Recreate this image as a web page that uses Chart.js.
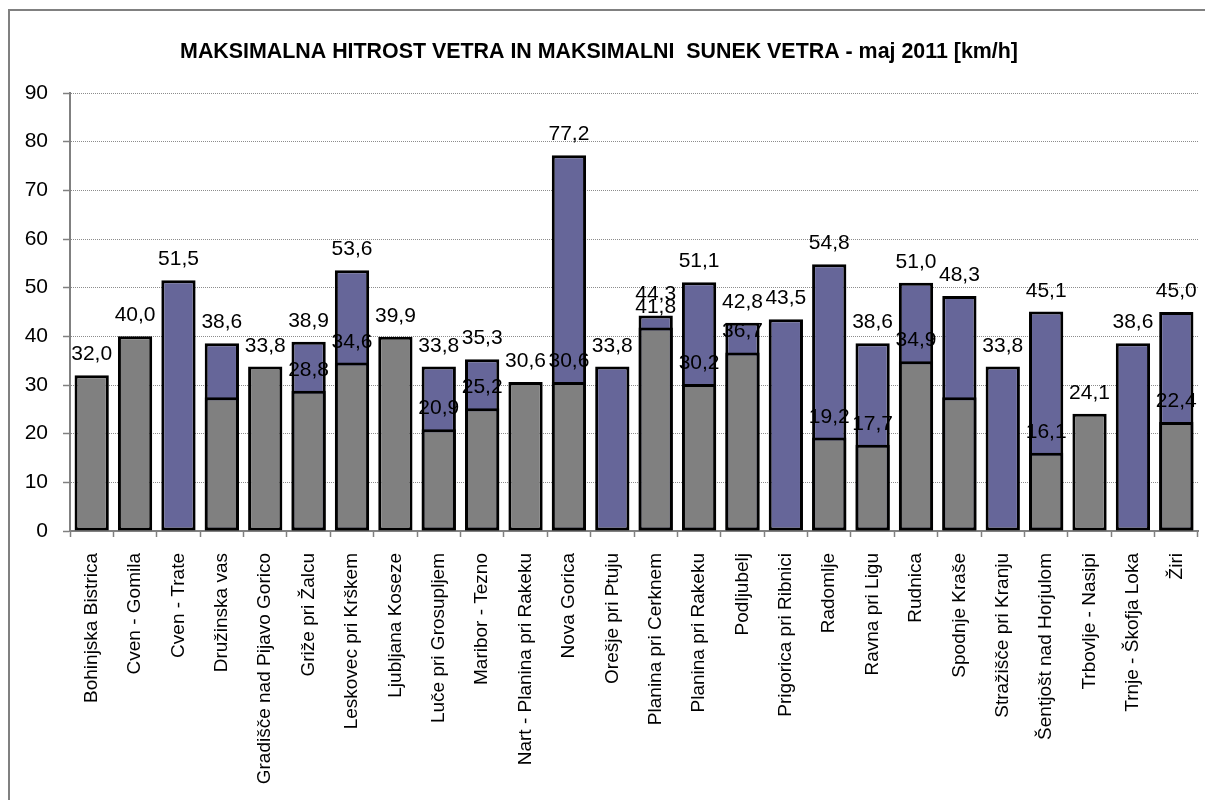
<!DOCTYPE html>
<html lang="sl">
<head>
<meta charset="utf-8">
<title>Maksimalna hitrost vetra - maj 2011</title>
<script src="https://cdn.jsdelivr.net/npm/chart.js@4.4.0/dist/chart.umd.min.js"></script>
<style>
    body { margin: 0; background: #ffffff; overflow: hidden; }
    canvas { display: block; }
</style>
</head>
<body>
<canvas id="chartVeter" width="1205" height="800"></canvas>
<script>
const postaje = [
    'Bohinjska Bistrica', 'Cven - Gomila', 'Cven - Trate', 'Družinska vas',
    'Gradišče nad Pijavo Gorico', 'Griže pri Žalcu', 'Leskovec pri Krškem',
    'Ljubljana Koseze', 'Luče pri Grosupljem', 'Maribor - Tezno',
    'Nart - Planina pri Rakeku', 'Nova Gorica', 'Orešje pri Ptuju',
    'Planina pri Cerknem', 'Planina pri Rakeku', 'Podljubelj',
    'Prigorica pri Ribnici', 'Radomlje', 'Ravna pri Ligu', 'Rudnica',
    'Spodnje Kraše', 'Stražišče pri Kranju', 'Šentjošt nad Horjulom',
    'Trbovlje - Nasipi', 'Trnje - Škofja Loka', 'Žiri'
];

// maksimalna hitrost vetra (siva)
const hitrost = [
    32.0, 40.0, null, 27.5, 33.8, 28.8, 34.6, 39.9, 20.9, 25.2, 30.6, 30.6, null,
    41.8, 30.2, 36.7, null, 19.2, 17.7, 34.9, 27.5, null, 16.1, 24.1, null, 22.4
];

// ali se vrednost hitrosti izpiše nad stolpcem
const hitrostOznaka = [
    true, true, true, false, true, true, true, true, true, true, true, true, true,
    true, true, true, true, true, true, true, false, true, true, true, true, true
];

// maksimalni sunek vetra (modra)
const sunek = [
    null, null, 51.5, 38.6, null, 38.9, 53.6, null, 33.8, 35.3, null, 77.2, 33.8,
    44.3, 51.1, 42.8, 43.5, 54.8, 38.6, 51.0, 48.3, 33.8, 45.1, null, 38.6, 45.0
];

const yTicks = [0, 10, 20, 30, 40, 50, 60, 70, 80, 90];

const naslov = 'MAKSIMALNA HITROST VETRA IN MAKSIMALNI  SUNEK VETRA - maj 2011 [km/h]';
const pisava = '"Liberation Sans", Arial, sans-serif';

const fmt = (v) => v.toFixed(1).replace('.', ',');

// okvir in naslov
const okvirPlugin = {
    id: 'okvir',
    beforeDraw(chart) {
        const ctx = chart.ctx;
        ctx.save();
        ctx.fillStyle = '#ffffff';
        ctx.fillRect(0, 0, chart.width, chart.height);
        ctx.strokeStyle = '#808080';
        ctx.lineWidth = 2;
        ctx.strokeRect(9, 10, chart.width + 20, chart.height + 20);
        ctx.fillStyle = '#000000';
        ctx.font = 'bold 21.4px ' + pisava;
        ctx.textAlign = 'center';
        ctx.textBaseline = 'alphabetic';
        ctx.fillText(naslov, 599, 58);
        ctx.restore();
    }
};

// vrednosti nad stolpci
const oznakePlugin = {
    id: 'oznake',
    afterDatasetsDraw(chart) {
        const ctx = chart.ctx;
        ctx.save();
        ctx.fillStyle = '#000000';
        ctx.font = '21px ' + pisava;
        ctx.textAlign = 'center';
        ctx.textBaseline = 'alphabetic';
        [1, 0].forEach(ds => {
            const meta = chart.getDatasetMeta(ds);
            const data = chart.data.datasets[ds].data;
            meta.data.forEach((bar, i) => {
                const v = data[i];
                if (v === null || v === undefined) return;
                if (ds === 0 && !hitrostOznaka[i]) return;
                ctx.fillText(fmt(v), bar.x, bar.y - 15);
            });
        });
        ctx.restore();
    }
};

const canvas = document.getElementById('chartVeter');
const context = canvas.getContext('2d');

const chartVeter = new Chart(context, {
    type: 'bar',
    data: {
        labels: postaje,
        datasets: [
            {
                label: 'Maksimalna hitrost vetra',
                data: hitrost,
                backgroundColor: '#808080',
                borderColor: '#000000',
                borderWidth: 3,
                borderSkipped: false
            },
            {
                label: 'Maksimalni sunek vetra',
                data: sunek,
                backgroundColor: '#666699',
                borderColor: '#000000',
                borderWidth: 3,
                borderSkipped: false
            }
        ]
    },
    options: {
        responsive: false,
        animation: false,
        devicePixelRatio: 1,
        grouped: false,
        barPercentage: 0.79,
        categoryPercentage: 1,
        layout: {
            padding: { top: 93, left: 0, right: 7, bottom: 0 }
        },
        plugins: {
            legend: { display: false },
            title: { display: false },
            tooltip: { enabled: false }
        },
        scales: {
            x: {
                offset: true,
                grid: {
                    offset: true,
                    drawOnChartArea: false,
                    tickLength: 6,
                    tickColor: '#808080',
                    tickWidth: 1.5
                },
                border: { color: '#808080', width: 2 },
                ticks: {
                    color: '#000000',
                    font: { family: pisava, size: 19 },
                    minRotation: 90,
                    maxRotation: 90,
                    autoSkip: false,
                    padding: 16
                },
                afterFit(scale) {
                    scale.height = 269;
                    scale.paddingLeft = 0;
                    scale.paddingRight = 0;
                }
            },
            y: {
                min: 0,
                max: 90,
                afterBuildTicks(scale) {
                    scale.ticks = yTicks.map(v => ({ value: v }));
                },
                grid: {
                    color: '#8c8c8c',
                    lineWidth: 1,
                    tickLength: 7,
                    tickColor: '#808080',
                    tickWidth: 1.5
                },
                border: { color: '#808080', width: 2, dash: [1, 1] },
                ticks: {
                    color: '#000000',
                    font: { family: pisava, size: 21 },
                    padding: 15
                },
                afterFit(scale) {
                    scale.width = 70;
                }
            }
        }
    },
    plugins: [okvirPlugin, oznakePlugin]
});
</script>
</body>
</html>
